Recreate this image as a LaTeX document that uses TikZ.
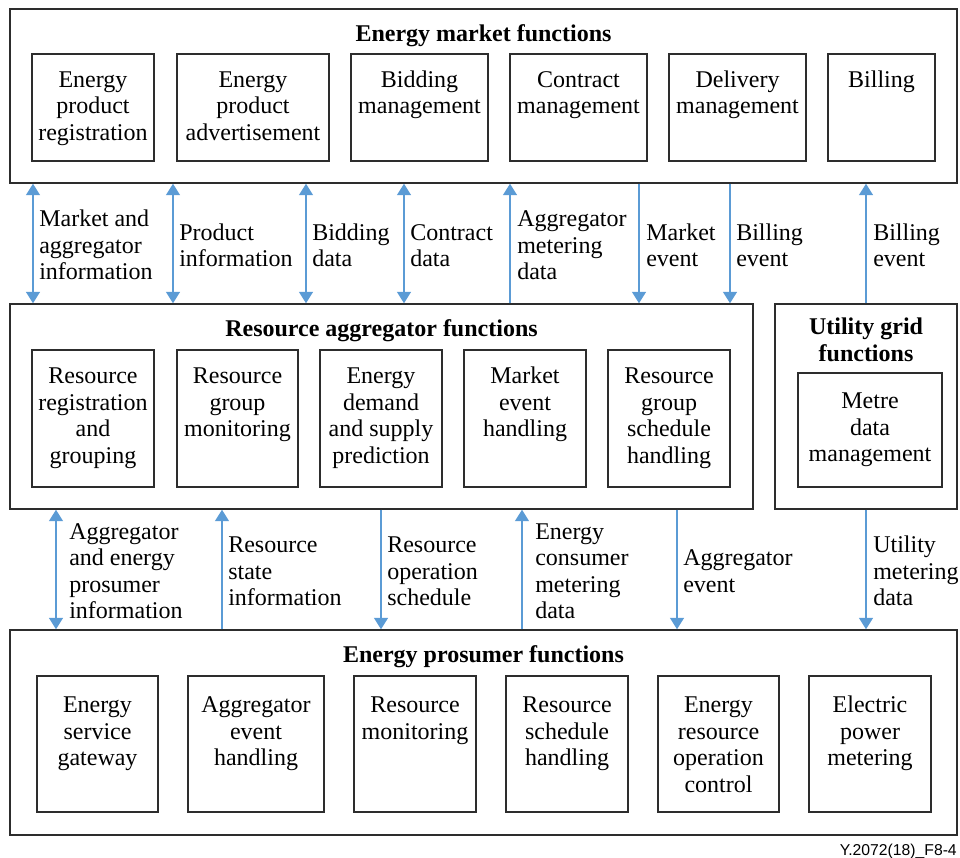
\documentclass[tikz,border=0pt]{standalone}
\usepackage{fontspec}
\setmainfont{Liberation Serif}
\newfontfamily\footfont{Liberation Sans}
\usetikzlibrary{arrows.meta,fit,calc}
\definecolor{arrblue}{RGB}{91,155,213}
\definecolor{boxgray}{RGB}{45,45,45}
\tikzset{
 fbox/.style={draw=boxgray, line width=1.1pt, inner sep=0pt},
 btxt/.style={font=\fontsize{18}{19.9}\selectfont, align=center, inner sep=0pt, anchor=north},
 ltxt/.style={font=\fontsize{18}{19.9}\selectfont, align=left, inner sep=0pt, anchor=north west},
 ttl/.style={font=\fontsize{18}{19.9}\selectfont\bfseries, inner sep=0pt},
 conn/.style={draw=arrblue, line width=1.1pt, >={Triangle[length=8.6pt,width=10.5pt]}},
}
\newcommand\mybox[5]{\node[fbox, fit={(#2,#3) (#4,#5)}] (#1) {};}
\newcommand\boxtext[3]{\node[btxt] (#1-t) at ($(#1.north)+(0,#2)$) {\strut #3};}
\newcommand\arrlabel[4]{\node[ltxt] (#1) at (#2,#3) {\strut #4};}
\begin{document}
\begin{tikzpicture}[x=0.75pt, y=-0.75pt]
\useasboundingbox (0,0) rectangle (960,857);
% ---------- Energy market functions ----------
\mybox{mkt}{10}{9}{957}{183}
\node[ttl, anchor=base] (mkt-t) at (483.5,41) {Energy market functions};
\mybox{e1}{32}{54}{154}{161}
\mybox{e2}{177}{54}{329}{161}
\mybox{e3}{351}{54}{488}{161}
\mybox{e4}{510}{54}{647}{161}
\mybox{e5}{669}{54}{806}{161}
\mybox{e6}{828}{54}{935}{161}
\boxtext{e1}{15}{Energy\\product\\registration}
\boxtext{e2}{15}{Energy\\product\\advertisement}
\boxtext{e3}{15}{Bidding\\management}
\boxtext{e4}{15}{Contract\\management}
\boxtext{e5}{15}{Delivery\\management}
\boxtext{e6}{15}{Billing}
% ---------- Resource aggregator functions ----------
\mybox{agg}{10}{304}{753}{509}
\node[ttl, anchor=base] (agg-t) at (381.5,336) {Resource aggregator functions};
\mybox{r1}{32}{350}{154}{487}
\mybox{r2}{177}{350}{298}{487}
\mybox{r3}{320}{350}{442}{487}
\mybox{r4}{464}{350}{586}{487}
\mybox{r5}{608}{350}{730}{487}
\boxtext{r1}{15.5}{Resource\\registration\\and\\grouping}
\boxtext{r2}{15.5}{Resource\\group\\monitoring}
\boxtext{r3}{15.5}{Energy\\demand\\and supply\\prediction}
\boxtext{r4}{15.5}{Market\\event\\handling}
\boxtext{r5}{15.5}{Resource\\group\\schedule\\handling}
% ---------- Utility grid functions ----------
\mybox{util}{775}{304}{957}{509}
\node[ttl, align=center, anchor=north] (util-t) at (866,316) {\strut Utility grid\\functions};
\mybox{m1}{798}{373}{942}{487}
\boxtext{m1}{17.5}{Metre\\data\\management}
% ---------- Energy prosumer functions ----------
\mybox{pro}{10}{630}{957}{835}
\node[ttl, anchor=base] (pro-t) at (483.5,662) {Energy prosumer functions};
\mybox{p1}{37}{676}{158}{812}
\mybox{p2}{188}{676}{324}{812}
\mybox{p3}{354}{676}{476}{812}
\mybox{p4}{506}{676}{628}{812}
\mybox{p5}{658}{676}{779}{812}
\mybox{p6}{809}{676}{931}{812}
\boxtext{p1}{18.5}{Energy\\service\\gateway}
\boxtext{p2}{18.5}{Aggregator\\event\\handling}
\boxtext{p3}{18.5}{Resource\\monitoring}
\boxtext{p4}{18.5}{Resource\\schedule\\handling}
\boxtext{p5}{18.5}{Energy\\resource\\operation\\control}
\boxtext{p6}{18.5}{Electric\\power\\metering}
% ---------- upper connectors ----------
\coordinate (u1) at (33,0);
\coordinate (u2) at (173,0);
\coordinate (u3) at (306,0);
\coordinate (u4) at (404,0);
\coordinate (u5) at (510,0);
\coordinate (u6) at (639,0);
\coordinate (u7) at (730,0);
\coordinate (u8) at (866,0);
\draw[conn,<->] (u1 |- mkt.south) -- (u1 |- agg.north);
\draw[conn,<->] (u2 |- mkt.south) -- (u2 |- agg.north);
\draw[conn,<->] (u3 |- mkt.south) -- (u3 |- agg.north);
\draw[conn,<->] (u4 |- mkt.south) -- (u4 |- agg.north);
\draw[conn,->] (u5 |- agg.north) -- (u5 |- mkt.south);
\draw[conn,->] (u6 |- mkt.south) -- (u6 |- agg.north);
\draw[conn,->] (u7 |- mkt.south) -- (u7 |- agg.north);
\draw[conn,->] (u8 |- util.north) -- (u8 |- mkt.south);
\arrlabel{l1}{39}{208}{Market and\\aggregator\\information}
\arrlabel{l2}{179}{221.2}{Product\\information}
\arrlabel{l3}{312}{221.2}{Bidding\\data}
\arrlabel{l4}{410}{221.2}{Contract\\data}
\arrlabel{l5}{517}{208}{Aggregator\\metering\\data}
\arrlabel{l6}{646}{221.2}{Market\\event}
\arrlabel{l7}{736}{221.2}{Billing\\event}
\arrlabel{l8}{873}{221.2}{Billing\\event}
% ---------- lower connectors ----------
\coordinate (d1) at (56,0);
\coordinate (d2) at (222,0);
\coordinate (d3) at (381,0);
\coordinate (d4) at (522,0);
\coordinate (d5) at (677,0);
\coordinate (d6) at (866,0);
\draw[conn,<->] (d1 |- agg.south) -- (d1 |- pro.north);
\draw[conn,->] (d2 |- pro.north) -- (d2 |- agg.south);
\draw[conn,->] (d3 |- agg.south) -- (d3 |- pro.north);
\draw[conn,->] (d4 |- pro.north) -- (d4 |- agg.south);
\draw[conn,->] (d5 |- agg.south) -- (d5 |- pro.north);
\draw[conn,->] (d6 |- util.south) -- (d6 |- pro.north);
\arrlabel{k1}{69}{520.5}{Aggregator\\and energy\\prosumer\\information}
\arrlabel{k2}{228}{534}{Resource\\state\\information}
\arrlabel{k3}{387}{534}{Resource\\operation\\schedule}
\arrlabel{k4}{535}{520.5}{Energy\\consumer\\metering\\data}
\arrlabel{k5}{683}{547}{Aggregator\\event}
\arrlabel{k6}{873}{534}{Utility\\metering\\data}
% ---------- figure id ----------
\node[font=\footfont\fontsize{11.8}{14}\selectfont, anchor=base east, inner sep=0pt] (figid) at (957,855) {Y.2072(18)\_F8-4};
\end{tikzpicture}
\end{document}
